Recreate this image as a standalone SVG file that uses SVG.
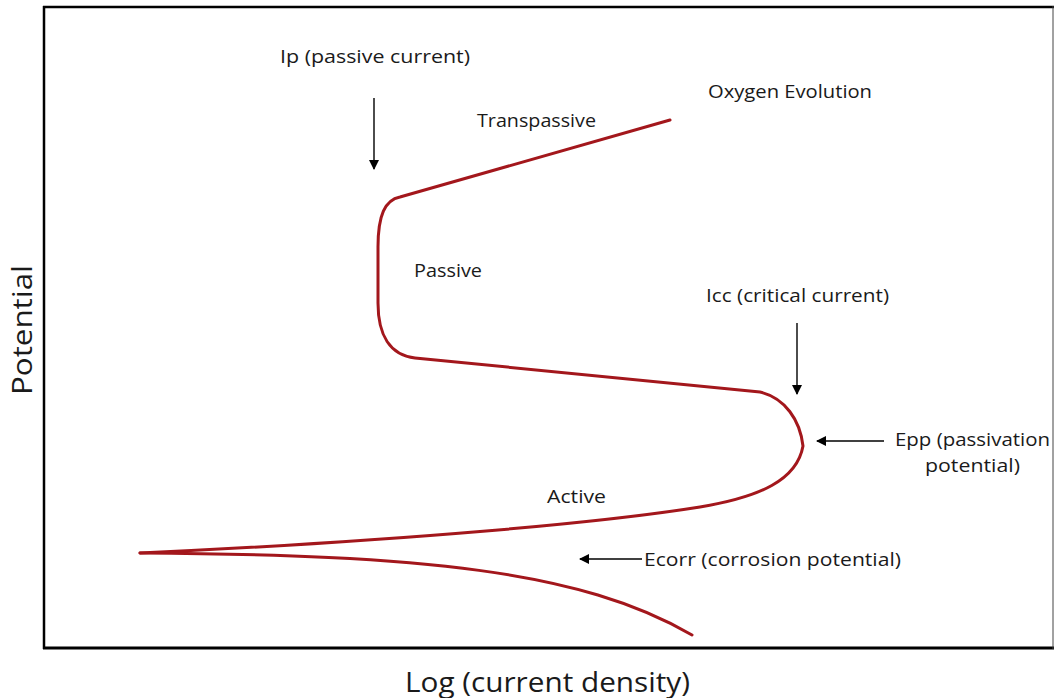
<svg xmlns="http://www.w3.org/2000/svg" width="1055" height="698" viewBox="0 0 1055 698">
<defs>
<style>
.lbl{font-family:"Open Sans","Liberation Sans",sans-serif;font-size:19px;fill:#1a1a1a}
.axis{font-family:"Open Sans","Liberation Sans",sans-serif;font-size:27px;fill:#1a1a1a}
.curve{fill:none;stroke:#a3171c;stroke-width:3;stroke-linecap:round;stroke-linejoin:round}
.arr{stroke:#000;stroke-width:1.4;fill:none}
</style>
<marker id="ah" viewBox="0 0 10 10" refX="9" refY="5" markerWidth="10" markerHeight="10" markerUnits="userSpaceOnUse" orient="auto">
<path d="M0,0 L10,5 L0,10 Z" fill="#000"/>
</marker>
</defs>
<rect width="1055" height="698" fill="#fff"/>
<g id="frame">
<line x1="43" y1="7" x2="1054" y2="7" stroke="#000" stroke-width="2.5"/>
<line x1="44" y1="6" x2="44" y2="649" stroke="#000" stroke-width="2.5"/>
<line x1="43" y1="648" x2="1054" y2="648" stroke="#000" stroke-width="3"/>
<line x1="1053" y1="6" x2="1053" y2="649" stroke="#444" stroke-width="1"/>
</g>
<g id="curves">
<path class="curve" d="M670,120 L400,197 C385,200 378,215 378,247 L378,303 C378,335 390,355 415,358 L760,392 C785,398 800,420 803,446 C797,480 760,497 700,507 C600,523 400,541 140,553"/>
<path class="curve" d="M140,553 C420,555 580,570 692,635"/>
</g>
<g id="connectors">
<line class="arr" x1="374" y1="98" x2="374" y2="169" marker-end="url(#ah)"/>
<line class="arr" x1="797" y1="323" x2="797" y2="394" marker-end="url(#ah)"/>
<line class="arr" x1="884" y1="441" x2="817" y2="441" marker-end="url(#ah)"/>
<line class="arr" x1="642" y1="559" x2="580" y2="559" marker-end="url(#ah)"/>
</g>
<g id="labels">
<text class="lbl" x="280" y="63" textLength="190" lengthAdjust="spacingAndGlyphs">Ip (passive current)</text>
<text class="lbl" x="477" y="127" textLength="119" lengthAdjust="spacingAndGlyphs">Transpassive</text>
<text class="lbl" x="708" y="98" textLength="164" lengthAdjust="spacingAndGlyphs">Oxygen Evolution</text>
<text class="lbl" x="414" y="277" textLength="68" lengthAdjust="spacingAndGlyphs">Passive</text>
<text class="lbl" x="706" y="302" textLength="183" lengthAdjust="spacingAndGlyphs">Icc (critical current)</text>
<text class="lbl" x="895" y="446" textLength="155" lengthAdjust="spacingAndGlyphs">Epp (passivation</text>
<text class="lbl" x="925" y="472" textLength="95" lengthAdjust="spacingAndGlyphs">potential)</text>
<text class="lbl" x="547" y="503" textLength="59" lengthAdjust="spacingAndGlyphs">Active</text>
<text class="lbl" x="644" y="566" textLength="257" lengthAdjust="spacingAndGlyphs">Ecorr (corrosion potential)</text>
<text class="axis" x="405" y="692" textLength="285" lengthAdjust="spacingAndGlyphs">Log (current density)</text>
<text class="axis" transform="translate(32,395) rotate(-90)" x="0" y="0" textLength="130" lengthAdjust="spacingAndGlyphs">Potential</text>
</g>
</svg>
